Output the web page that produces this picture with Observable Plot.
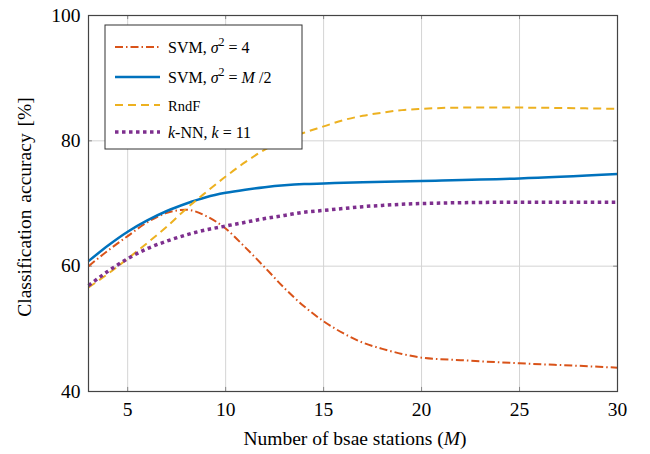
<!DOCTYPE html>
<html>
<head>
<meta charset="utf-8">
<script src="https://cdn.jsdelivr.net/npm/d3@7"></script>
<script src="https://cdn.jsdelivr.net/npm/@observablehq/plot@0.6"></script>
<style>
body { margin: 0; background: #fff; }
</style>
</head>
<body>
<div id="chart"></div>
<script>
const xTicks = [5, 10, 15, 20, 25, 30];
const yTicks = [40, 60, 80, 100];

const svm4M = [3, 4, 5, 6, 7, 8, 9, 10, 11, 12, 13, 14, 15, 16, 17, 18, 19, 20, 22, 25, 28, 30];
const svm4Acc = [60.0, 62.5, 64.8, 67.0, 68.5, 69.0, 68.0, 66.0, 63.0, 59.8, 56.5, 53.6, 51.2, 49.3, 47.8, 46.8, 46.0, 45.4, 45.0, 44.5, 44.1, 43.8];

const svmHalfM = [3, 4, 5, 6, 7, 8, 9, 10, 11, 12, 13, 14, 15, 17, 20, 25, 30];
const svmHalfAcc = [60.8, 63.3, 65.5, 67.3, 68.8, 70.0, 71.0, 71.7, 72.2, 72.6, 72.9, 73.1, 73.2, 73.4, 73.6, 74.0, 74.7];

const rndfM = [3, 4, 5, 6, 7, 8, 9, 10, 11, 12, 13, 14, 15, 16, 17, 18, 19, 20, 22, 25, 28, 30];
const rndfAcc = [56.6, 58.8, 61.2, 63.7, 66.3, 69.2, 71.8, 74.3, 76.6, 78.6, 80.2, 81.3, 82.3, 83.3, 84.0, 84.5, 84.9, 85.1, 85.3, 85.3, 85.2, 85.1];

const knnM = [3, 4, 5, 6, 7, 8, 9, 10, 11, 12, 13, 14, 15, 16, 17, 18, 20, 25, 30];
const knnAcc = [56.9, 59.2, 61.2, 62.8, 64.0, 65.0, 65.8, 66.4, 67.0, 67.6, 68.1, 68.6, 68.9, 69.2, 69.5, 69.7, 70.0, 70.2, 70.2];

const colors = { svm4: "#D95319", svmHalf: "#0072BD", rndf: "#EDB120", knn: "#7E2F8E" };

const toRows = (xs, ys) => xs.map((x, i) => ({ x, y: ys[i] }));
const serif = "'Liberation Serif', 'Times New Roman', Times, serif";

const lineOpts = { x: "x", y: "y", curve: "monotone-x", strokeLinecap: "butt", strokeLinejoin: "round" };

const plot = Plot.plot({
  width: 650,
  height: 454,
  marginLeft: 88,
  marginRight: 33,
  marginTop: 15,
  marginBottom: 63,
  style: { fontFamily: serif, fontSize: "19.5px", color: "#000", background: "#fff" },
  x: { domain: [3, 30] },
  y: { domain: [40, 100] },
  marks: [
    Plot.gridX(xTicks, { stroke: "#d4d4d4", strokeOpacity: 1, strokeWidth: 1 }),
    Plot.gridY(yTicks, { stroke: "#d4d4d4", strokeOpacity: 1, strokeWidth: 1 }),
    Plot.ruleX(xTicks, { y1: 40, y2: 40.65, stroke: "#888" }),
    Plot.ruleX(xTicks, { y1: 99.35, y2: 100, stroke: "#888" }),
    Plot.ruleY(yTicks, { x1: 3, x2: 3.2, stroke: "#888" }),
    Plot.ruleY(yTicks, { x1: 29.8, x2: 30, stroke: "#888" }),
    Plot.axisX(xTicks, { tickSize: 0, tickPadding: 11, label: null }),
    Plot.axisY(yTicks, { tickSize: 0, tickPadding: 8, label: null }),
    Plot.line(toRows(svm4M, svm4Acc), { ...lineOpts, stroke: colors.svm4, strokeWidth: 2, strokeDasharray: "8,3,1.5,3" }),
    Plot.line(toRows(svmHalfM, svmHalfAcc), { ...lineOpts, stroke: colors.svmHalf, strokeWidth: 2.5 }),
    Plot.line(toRows(rndfM, rndfAcc), { ...lineOpts, stroke: colors.rndf, strokeWidth: 2, strokeDasharray: "8,5" }),
    Plot.line(toRows(knnM, knnAcc), { ...lineOpts, stroke: colors.knn, strokeWidth: 3.5, strokeDasharray: "3.5,3.5" }),
    Plot.frame({ stroke: "#444", strokeWidth: 1.2 })
  ]
});

document.getElementById("chart").appendChild(plot);

const svg = d3.select(plot);

// axis labels
const xl = svg.append("text").attr("x", 355).attr("y", 445).attr("text-anchor", "middle")
  .attr("font-family", serif).attr("font-size", 19.5).attr("fill", "#000");
xl.append("tspan").text("Number of bsae stations (");
xl.append("tspan").attr("font-style", "italic").text("M");
xl.append("tspan").text(")");

svg.append("text").attr("transform", "translate(31,207) rotate(-90)").attr("text-anchor", "middle")
  .attr("font-family", serif).attr("font-size", 19.5).attr("fill", "#000")
  .attr("word-spacing", 2)
  .text("Classification accuracy [%]");

// legend
const lg = svg.append("g").attr("font-family", serif).attr("font-size", 16).attr("fill", "#000")
  .attr("text-anchor", "start");
lg.append("rect").attr("x", 105).attr("y", 25).attr("width", 197).attr("height", 124)
  .attr("fill", "#fff").attr("stroke", "#333").attr("stroke-width", 1);

const entries = [
  { y: 47, color: colors.svm4, width: 2, dash: "8,3,1.5,3", kind: "s4" },
  { y: 77, color: colors.svmHalf, width: 2.5, dash: null, kind: "sh" },
  { y: 105, color: colors.rndf, width: 2, dash: "8,5", kind: "rf" },
  { y: 132, color: colors.knn, width: 3.5, dash: "3.5,3.5", kind: "kn" }
];
entries.forEach(e => {
  const l = lg.append("line").attr("x1", 115).attr("x2", 160).attr("y1", e.y).attr("y2", e.y)
    .attr("stroke", e.color).attr("stroke-width", e.width);
  if (e.dash) l.attr("stroke-dasharray", e.dash);
  const t = lg.append("text").attr("x", 168).attr("y", e.y + 5.5);
  if (e.kind === "s4") {
    t.append("tspan").text("SVM, ");
    t.append("tspan").attr("font-style", "italic").text("σ");
    t.append("tspan").attr("dy", -7).attr("font-size", 12).text("2");
    t.append("tspan").attr("dy", 7).text(" = 4");
  } else if (e.kind === "sh") {
    t.append("tspan").text("SVM, ");
    t.append("tspan").attr("font-style", "italic").text("σ");
    t.append("tspan").attr("dy", -7).attr("font-size", 12).text("2");
    t.append("tspan").attr("dy", 7).text(" = ");
    t.append("tspan").attr("font-style", "italic").text("M");
    t.append("tspan").text(" /2");
  } else if (e.kind === "rf") {
    t.attr("font-size", 14.5).text("RndF");
  } else {
    t.append("tspan").attr("font-style", "italic").text("k");
    t.append("tspan").text("-NN, ");
    t.append("tspan").attr("font-style", "italic").text("k");
    t.append("tspan").text(" = 11");
  }
});
</script>
</body>
</html>
